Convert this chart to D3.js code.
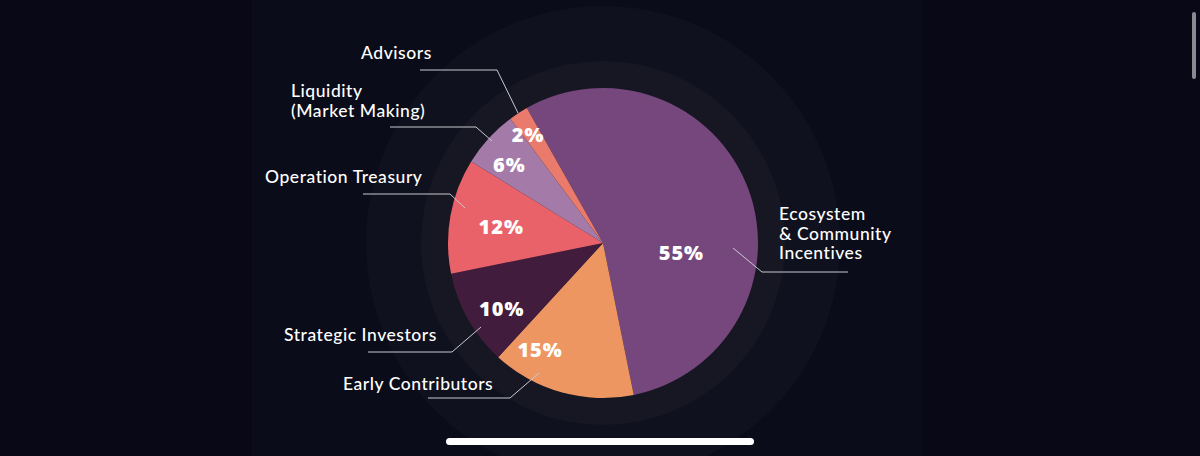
<!DOCTYPE html>
<html>
<head>
<meta charset="utf-8">
<script src="https://cdn.jsdelivr.net/npm/d3@7"></script>
<style>
  html, body { margin: 0; padding: 0; background: #080816; overflow: hidden; }
  svg { display: block; }
</style>
</head>
<body>
<svg id="chart" width="1200" height="456"></svg>
<script>
// ---- data ----
const categories = ["Ecosystem & Community Incentives", "Early Contributors", "Strategic Investors", "Operation Treasury", "Liquidity (Market Making)", "Advisors"];
const labelLines = [["Ecosystem", "& Community", "Incentives"], ["Early Contributors"], ["Strategic Investors"], ["Operation Treasury"], ["Liquidity", "(Market Making)"], ["Advisors"]];
const values = [55, 15, 10, 12, 6, 2];
const colors = ["#76477c", "#ee9661", "#421c3c", "#e9626a", "#a47aa8", "#ea7a6c"];

// ---- layout ----
const W = 1200, H = 456;
const cx = 603, cy = 243, R = 155;
const startAngle = -0.514;
// percent label: polar (deg, radius) relative to centre
const pctPolar = [[97.2, 79], [210.5, 124], [236.8, 121], [279.1, 103], [309.8, 122], [325.4, 132]];
// leader: anchor point, elbow, horizontal end x, label position
const leaders = [
  {p: [733, 248], e: [762, 272], x: 848, tx: 779, ty: 220},
  {p: [539, 373], e: [510, 398], x: 428, tx: 343, ty: 390},
  {p: [481, 327], e: [452, 352], x: 368, tx: 284, ty: 341},
  {p: [465, 208], e: [450, 194], x: 363, tx: 265, ty: 183},
  {p: [492, 141], e: [476, 127], x: 390, tx: 291, ty: 97},
  {p: [518, 113], e: [497, 70], x: 420, tx: 361, ty: 59}
];

const svg = d3.select("#chart");

// background panel & rings
svg.append("rect").attr("x", 0).attr("y", 0).attr("width", W).attr("height", H).attr("fill", "#080816");
svg.append("rect").attr("x", 252).attr("y", 0).attr("width", 671).attr("height", H).attr("fill", "#0b0c1a");
svg.append("circle").attr("cx", cx).attr("cy", cy).attr("r", 237).attr("fill", "#10111e");
svg.append("circle").attr("cx", cx).attr("cy", cy).attr("r", 182).attr("fill", "#161723");

const pie = d3.pie().value(d => d).sort(null).startAngle(startAngle).endAngle(startAngle + 2 * Math.PI);
const arcs = pie(values);
const arc = d3.arc().innerRadius(0).outerRadius(R);

const g = svg.append("g").attr("transform", `translate(${cx},${cy})`);
g.selectAll("path.slice").data(arcs).enter().append("path")
  .attr("class", "slice")
  .attr("d", arc)
  .attr("fill", (d, i) => colors[i]);

// leaders
const lineGen = d3.line();
svg.selectAll("path.leader").data(leaders).enter().append("path")
  .attr("class", "leader")
  .attr("d", d => lineGen([d.p, d.e, [d.x, d.e[1]]]))
  .attr("fill", "none")
  .attr("stroke", "#c9c9d0")
  .attr("stroke-width", 1);

// category labels
leaders.forEach((L, i) => {
  const t = svg.append("text")
    .attr("x", L.tx).attr("y", L.ty)
    .attr("fill", "#ffffff")
    .attr("font-family", "Lato, 'Noto Sans', sans-serif")
    .attr("font-size", 17.5)
    .attr("letter-spacing", 0.55)
    .attr("font-weight", 500);
  labelLines[i].forEach((ln, j) => {
    t.append("tspan").attr("x", L.tx).attr("dy", j === 0 ? 0 : 19.5).text(ln);
  });
});

// percent labels
g.selectAll("text.pct").data(arcs).enter().append("text")
  .attr("class", "pct")
  .attr("x", (d, i) => pctPolar[i][1] * Math.sin(pctPolar[i][0] * Math.PI / 180))
  .attr("y", (d, i) => -pctPolar[i][1] * Math.cos(pctPolar[i][0] * Math.PI / 180))
  .attr("dy", "0.36em")
  .attr("text-anchor", "middle")
  .attr("fill", "#ffffff")
  .attr("font-family", "'Open Sans', sans-serif")
  .attr("font-weight", 800)
  .attr("font-size", 20)
  .attr("letter-spacing", 1)
  .text(d => d.data + "%");

// scrollbar & home indicator
svg.append("rect").attr("x", 1192).attr("y", 12).attr("width", 4).attr("height", 67).attr("rx", 2).attr("fill", "#8a8a92");
svg.append("rect").attr("x", 446).attr("y", 438).attr("width", 308).attr("height", 7).attr("rx", 3.5).attr("fill", "#ffffff");
</script>
</body>
</html>
